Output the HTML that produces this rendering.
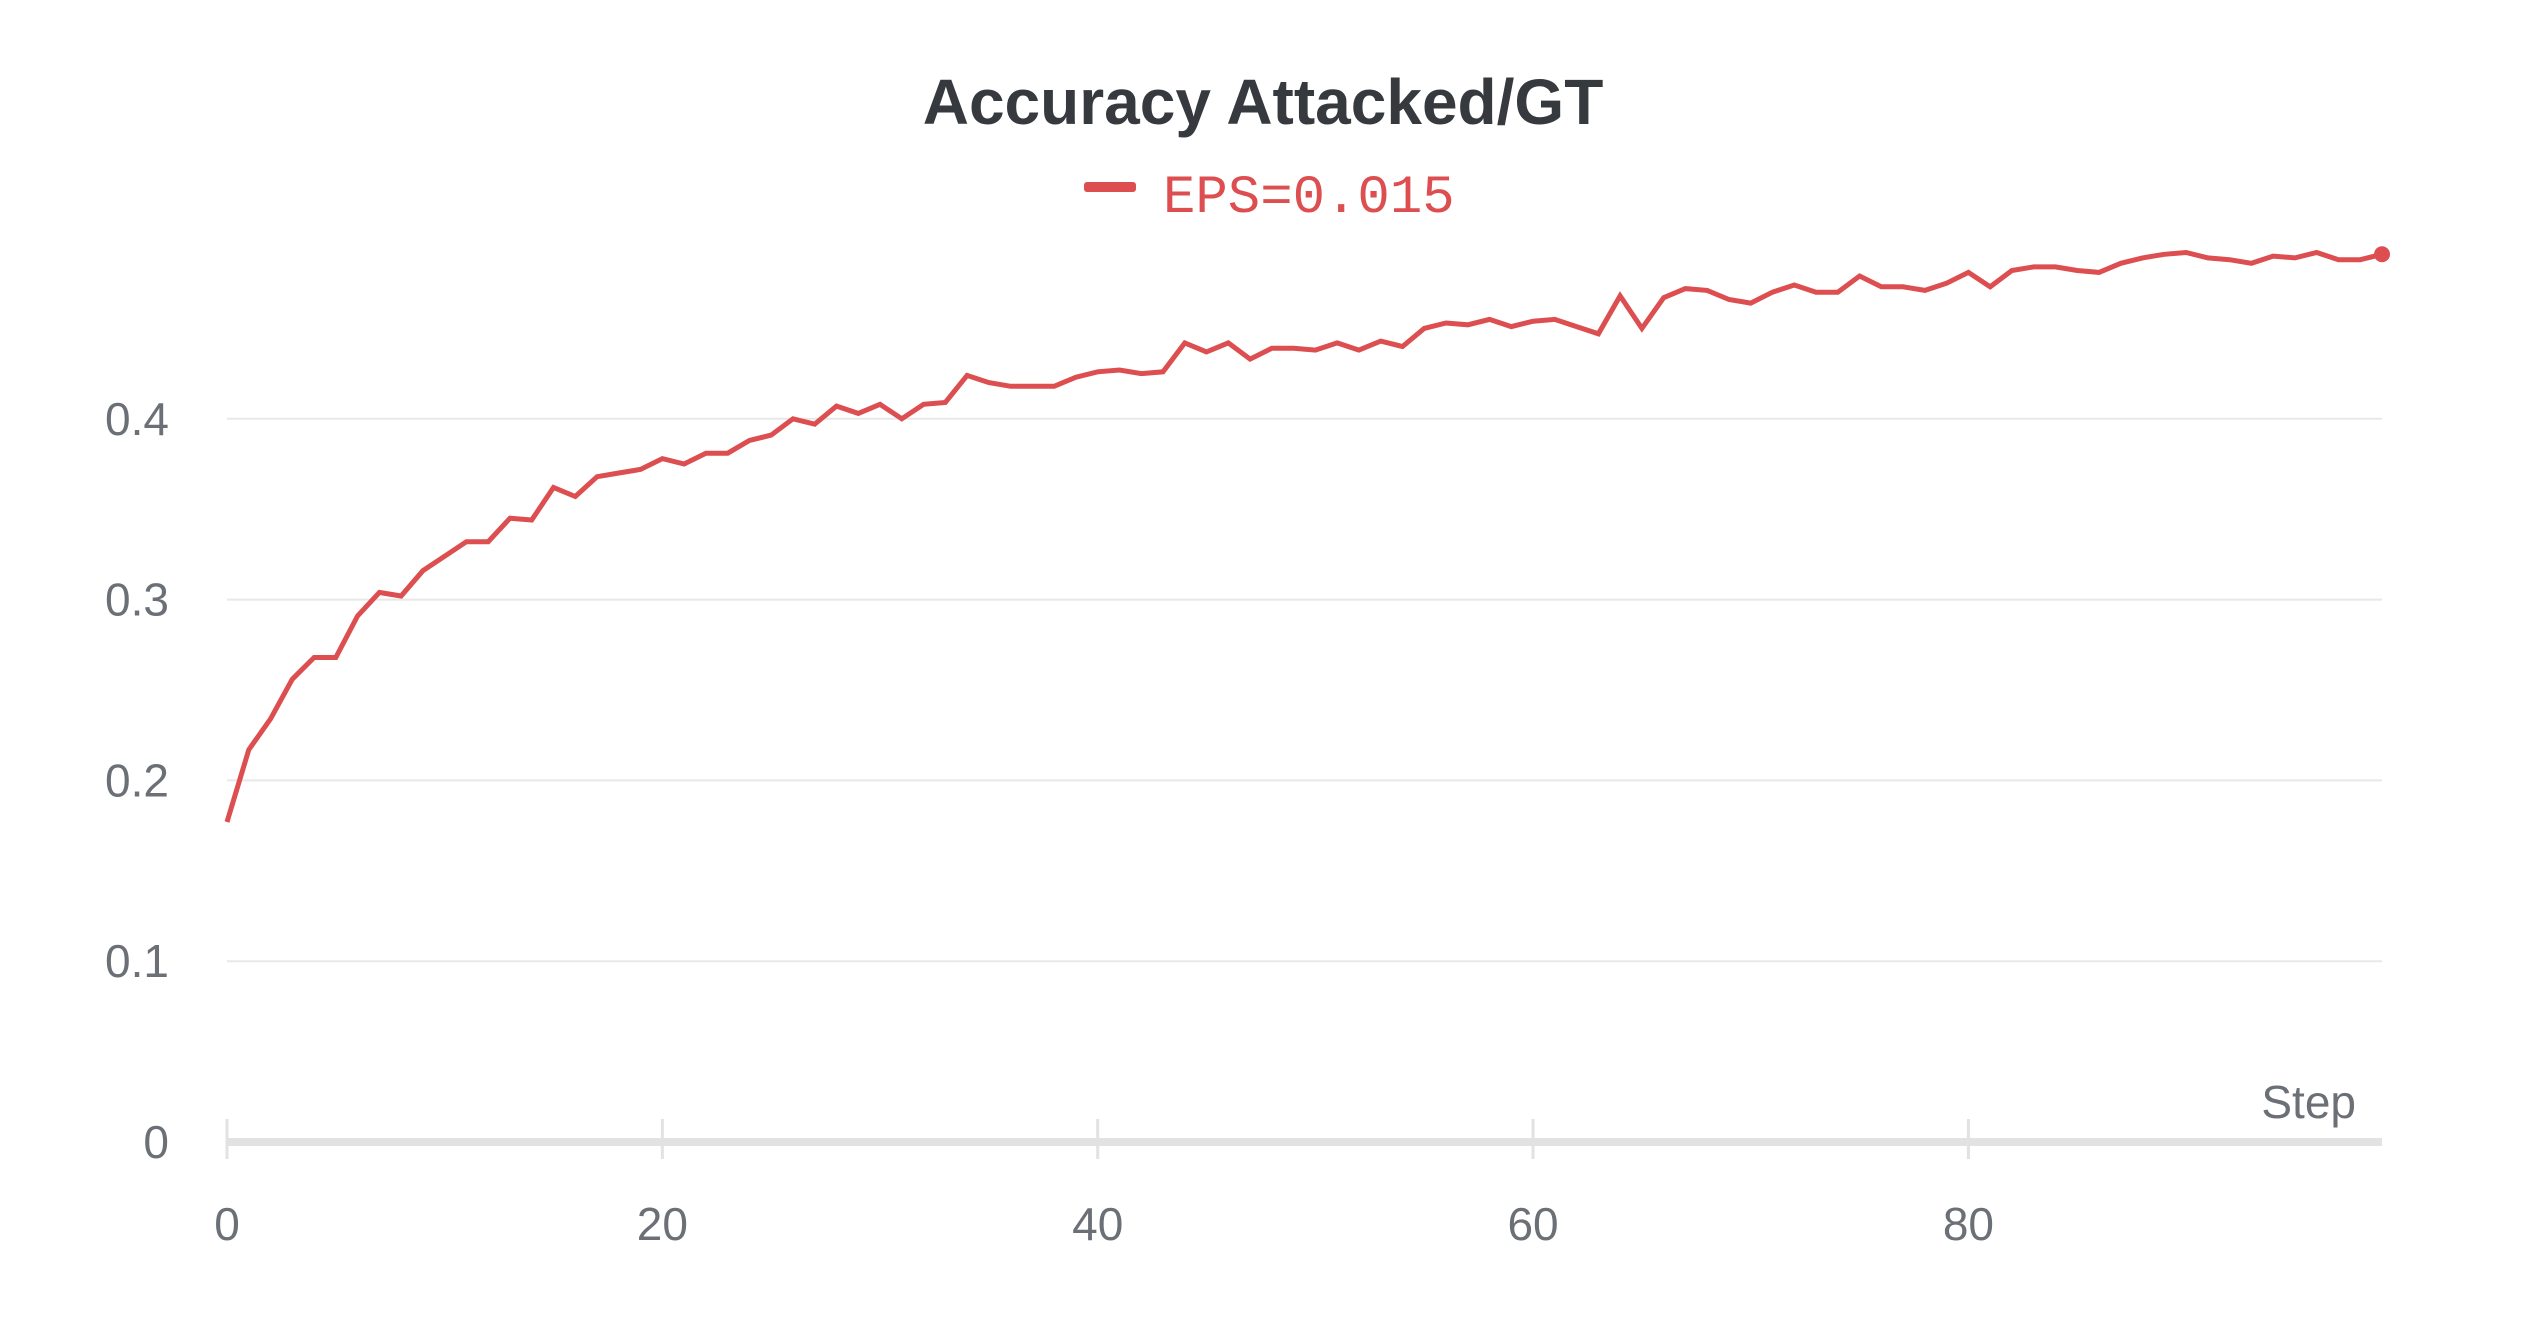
<!DOCTYPE html>
<html><head><meta charset="utf-8"><style>
html,body{margin:0;padding:0;background:#fff;}
svg{display:block;}
</style></head><body>
<svg id="chart" width="2527" height="1327" viewBox="0 0 2527 1327" xmlns="http://www.w3.org/2000/svg">
<text x="1263" y="124" text-anchor="middle" font-family="'Liberation Sans',sans-serif" font-weight="bold" font-size="64" fill="#363a3f">Accuracy Attacked/GT</text>
<g>
<rect x="1084" y="182" width="52" height="10" rx="3" fill="#dc4e4f"/>
<text x="1163" y="212" font-family="'Liberation Mono',monospace" font-size="54" fill="#dc4e4f">EPS=0.015</text>
</g>
<g id="grid"></g>
<g id="axes"></g>
<g id="series"></g>
</svg>
<script>
const steps = [];
for (let i = 0; i < 100; i++) steps.push(i);
const accuracy = [0.177,0.217,0.234,0.256,0.268,0.268,0.291,0.304,0.302,0.316,0.324,0.332,0.332,0.345,0.344,0.362,0.357,0.368,0.370,0.372,0.378,0.375,0.381,0.381,0.388,0.391,0.400,0.397,0.407,0.403,0.408,0.400,0.408,0.409,0.424,0.420,0.418,0.418,0.418,0.423,0.426,0.427,0.425,0.426,0.442,0.437,0.442,0.433,0.439,0.439,0.438,0.442,0.438,0.443,0.440,0.450,0.453,0.452,0.455,0.451,0.454,0.455,0.451,0.447,0.468,0.450,0.467,0.472,0.471,0.466,0.464,0.470,0.474,0.470,0.470,0.479,0.473,0.473,0.471,0.475,0.481,0.473,0.482,0.484,0.484,0.482,0.481,0.486,0.489,0.491,0.492,0.489,0.488,0.486,0.490,0.489,0.492,0.488,0.488,0.491];
const yTicks = [0,0.1,0.2,0.3,0.4];
const yTickLabels = ["0","0.1","0.2","0.3","0.4"];
const xTicks = [0,20,40,60,80];
const xTickLabels = ["0","20","40","60","80"];

const NS = "http://www.w3.org/2000/svg";
const X0 = 227, X1 = 2382, Y0 = 1142, PER = 1808;
function xs(v){ return X0 + (v/99)*(X1-X0); }
function ys(v){ return Y0 - v*PER; }
function mk(tag, attrs, parent){
  const e = document.createElementNS(NS, tag);
  for (const k in attrs) e.setAttribute(k, attrs[k]);
  parent.appendChild(e); return e;
}
const grid = document.getElementById('grid');
const axes = document.getElementById('axes');
const series = document.getElementById('series');

yTicks.forEach((t,i)=>{
  if (t !== 0) {
    const g = mk('line',{x1:X0,x2:X1,y1:ys(t),y2:ys(t),stroke:'#e8e8e8','stroke-width':2},grid);
    
    
  }
  const lb = mk('text',{x:169,y:ys(t)+16,'text-anchor':'end','font-family':"'Liberation Sans',sans-serif",'font-size':46,fill:'#6b6f76'},axes);
  lb.textContent = yTickLabels[i];
  
  
});
const ax = mk('line',{x1:X0,x2:X1,y1:Y0,y2:Y0,stroke:'#e2e2e2','stroke-width':8},axes);


xTicks.forEach((t,i)=>{
  const tk = mk('line',{x1:xs(t),x2:xs(t),y1:1119,y2:1159,stroke:'#e2e2e2','stroke-width':3},axes);
  
  
  const lb = mk('text',{x:xs(t),y:1240,'text-anchor':'middle','font-family':"'Liberation Sans',sans-serif",'font-size':46,fill:'#6b6f76'},axes);
  lb.textContent = xTickLabels[i];
  
  
});
const st = mk('text',{x:2356,y:1118,'text-anchor':'end','font-family':"'Liberation Sans',sans-serif",'font-size':46,fill:'#6b6f76'},axes);
st.textContent = 'Step';



const pts = steps.map((s,i)=>xs(s).toFixed(1)+','+ys(accuracy[i]).toFixed(1)).join(' ');
const pl = mk('polyline',{points:pts,fill:'none',stroke:'#dc4e4f','stroke-width':5,'stroke-linejoin':'miter'},series);


const last = steps.length-1;
const dot = mk('circle',{cx:xs(steps[last]),cy:ys(accuracy[last]),r:8,fill:'#dc4e4f'},series);


</script>
</body></html>
